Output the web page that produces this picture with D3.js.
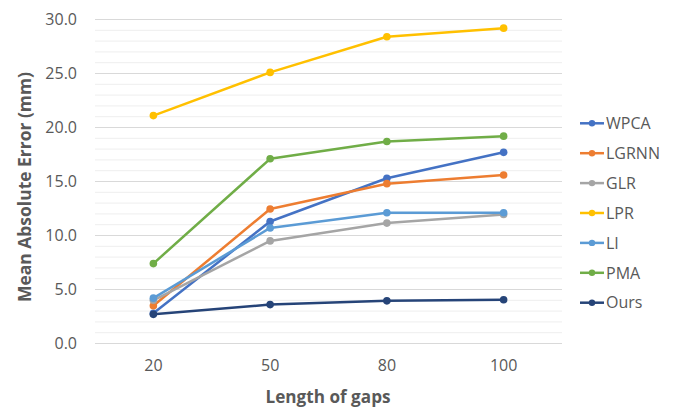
<!DOCTYPE html>
<html><head><meta charset="utf-8">
<script src="https://cdn.jsdelivr.net/npm/d3@7"></script>
<style>body{margin:0;background:#fff}svg{display:block}</style>
</head><body>
<svg id="c" width="676" height="407"></svg>
<script>
const categories = ["20","50","80","100"];
const seriesNames = ["WPCA","LGRNN","GLR","LPR","LI","PMA","Ours"];
const seriesColors = ["#4472C4","#ED7D31","#A5A5A5","#FFC000","#5B9BD5","#70AD47","#264478"];
const WPCA  = [2.8, 11.3, 15.3, 17.7];
const LGRNN = [3.5, 12.45, 14.8, 15.6];
const GLR   = [4.0, 9.5, 11.15, 11.95];
const LPR   = [21.1, 25.1, 28.4, 29.2];
const LI    = [4.2, 10.7, 12.1, 12.1];
const PMA   = [7.4, 17.1, 18.7, 19.2];
const Ours  = [2.7, 3.6, 3.95, 4.05];
const yTicks = [0,5,10,15,20,25,30];
const yMinor = d3.range(0,31,1);
const seriesValues = [WPCA, LGRNN, GLR, LPR, LI, PMA, Ours];

const svg = d3.select("#c");
const font = "'Open Sans', 'Noto Sans', sans-serif";
const x = d3.scaleBand().domain(categories).range([95,562]);
const y = d3.scaleLinear().domain([0,30]).range([343.5,19.5]);

svg.append("g").selectAll("line").data(yMinor.filter(v=>v%5!==0)).join("line")
  .attr("x1",95).attr("x2",562).attr("y1",d=>y(d)).attr("y2",d=>y(d))
  .attr("stroke","#eeeeee").attr("stroke-width",1);
svg.append("g").selectAll("line").data(yTicks).join("line")
  .attr("x1",95).attr("x2",562).attr("y1",d=>y(d)).attr("y2",d=>y(d))
  .attr("stroke","#d9d9d9").attr("stroke-width",1);

const yAxis = d3.axisLeft(y).tickValues(yTicks).tickFormat(d3.format(".1f")).tickSize(0).tickPadding(0);
const gy = svg.append("g").attr("transform","translate(77,0)").call(yAxis);
gy.select(".domain").remove();
gy.selectAll("text").attr("font-family",font).attr("font-size",16).attr("fill","#595959");

const xAxis = d3.axisBottom(x).tickSize(0).tickPadding(0);
const gx = svg.append("g").attr("transform","translate(0,360)").call(xAxis);
gx.select(".domain").remove();
gx.selectAll("text").attr("font-family",font).attr("font-size",16).attr("fill","#595959").attr("dy","0.71em");

svg.append("text").attr("x",328).attr("y",403).attr("text-anchor","middle")
  .attr("font-family",font).attr("font-size",17).attr("font-weight","bold").attr("fill","#595959")
  .attr("textLength",125).attr("lengthAdjust","spacingAndGlyphs")
  .text("Length of gaps");
svg.append("text").attr("transform","translate(31,187) rotate(-90)").attr("text-anchor","middle")
  .attr("font-family",font).attr("font-size",18).attr("font-weight","bold").attr("fill","#595959")
  .attr("textLength",230).attr("lengthAdjust","spacingAndGlyphs")
  .text("Mean Absolute Error (mm)");

const line = d3.line().x((d,i)=>x(categories[i])+x.bandwidth()/2).y(d=>y(d));
seriesValues.forEach((vals,si)=>{
  const g = svg.append("g");
  g.append("path").attr("d",line(vals)).attr("fill","none")
    .attr("stroke",seriesColors[si]).attr("stroke-width",2.5).attr("stroke-linejoin","round");
  g.selectAll("circle").data(vals).join("circle")
    .attr("cx",(d,i)=>x(categories[i])+x.bandwidth()/2).attr("cy",d=>y(d)).attr("r",3.8)
    .attr("fill",seriesColors[si]);
});

const leg = svg.append("g");
seriesNames.forEach((n,i)=>{
  const ly = 123.3 + i*29.9;
  leg.append("line").attr("x1",580).attr("x2",604).attr("y1",ly).attr("y2",ly)
    .attr("stroke",seriesColors[i]).attr("stroke-width",2.5);
  leg.append("circle").attr("cx",592).attr("cy",ly).attr("r",3.2).attr("fill",seriesColors[i]);
  leg.append("text").attr("x",606).attr("y",ly).attr("dy","0.36em")
    .attr("font-family",font).attr("font-size",16).attr("fill","#595959").text(n);
});
</script>
</body></html>
